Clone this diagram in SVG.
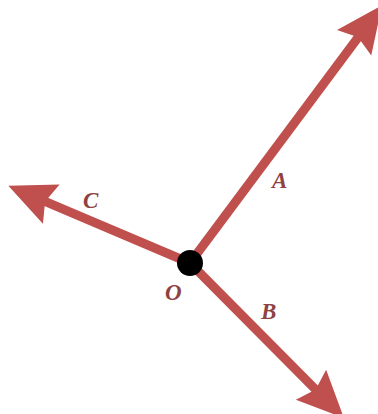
<svg xmlns="http://www.w3.org/2000/svg" width="378" height="414" viewBox="0 0 378 414">
<style>
.ray{stroke:#c0504d;stroke-width:9;fill:none;stroke-linecap:butt}
.lbl{font-family:"Liberation Serif","DejaVu Serif",serif;font-style:italic;font-weight:bold;font-size:23px;fill:#8e4242}
</style>
<defs>
<marker id="ah" markerUnits="userSpaceOnUse" orient="auto" refX="0" refY="0" markerWidth="60" markerHeight="60" viewBox="-15 -20 45 40" overflow="visible">
<path d="M-10,-16 L25,0 L-10,16 L-5,0 z" fill="#c0504d"/>
</marker>
</defs>
<g id="connectors">
<line class="ray" x1="190" y1="263" x2="362.1" y2="32" marker-end="url(#ah)"/>
<line class="ray" x1="190" y1="263" x2="39" y2="198.8" marker-end="url(#ah)"/>
<line class="ray" x1="190" y1="263" x2="320.4" y2="394.3" marker-end="url(#ah)"/>
</g>
<g id="O">
<circle cx="190" cy="263" r="13" fill="#000"/>
<text class="lbl" x="165" y="300">O</text>
</g>
<g id="A"><text class="lbl" x="272" y="188">A</text></g>
<g id="B"><text class="lbl" x="261" y="319">B</text></g>
<g id="C"><text class="lbl" x="83" y="208">C</text></g>
</svg>
